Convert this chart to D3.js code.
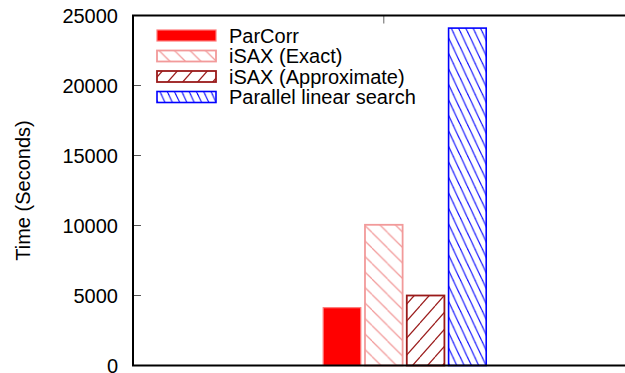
<!DOCTYPE html>
<html>
<head>
<meta charset="utf-8">
<script src="https://cdn.jsdelivr.net/npm/d3@7"></script>
<style>
  html, body { margin: 0; padding: 0; background: #fff; overflow: hidden; }
  svg { display: block; }
  text { font-family: "Liberation Sans", Arial, Helvetica, sans-serif; fill: #000; }
</style>
</head>
<body>
<svg id="chart" width="625" height="373"></svg>
<script>
// Query time of each method (seconds)
const seriesNames = ["ParCorr", "iSAX (Exact)", "iSAX (Approximate)", "Parallel linear search"];
const seriesValues = [4130, 10050, 5000, 24100];
// Bar slot of each series within the cluster (cluster tic sits at slot 0)
const seriesSlots = [-1, 0, 1, 2];
const yTicks = [0, 5000, 10000, 15000, 20000, 25000];
const yLabel = "Time (Seconds)";

const W = 625, H = 373;
const plot = { left: 133, right: 676.4, top: 15.5, bottom: 365.5 };

const svg = d3.select("#chart");

// Fill styles per series
const styles = [
  { fill: "#ff0000", stroke: "#ff7a7a", sw: 1.2, pattern: null },
  { fill: null, stroke: "#f29a9a", sw: 1.8, pattern: { id: "hatchExact", w: 15.5, h: 15.5, dir: "back", color: "#f29a9a", lw: 1.2 } },
  { fill: null, stroke: "#9a1a1a", sw: 1.8, pattern: { id: "hatchApprox", w: 15, h: 17, dir: "fwd", color: "#9a1a1a", lw: 1.2 } },
  { fill: null, stroke: "#0000ff", sw: 1.6, pattern: { id: "hatchLinear", w: 7.3, h: 15.5, dir: "back", color: "#0000ff", lw: 1.1 } }
];

const defs = svg.append("defs");
styles.forEach(s => {
  if (!s.pattern) return;
  const p = s.pattern;
  const pat = defs.append("pattern")
    .attr("id", p.id)
    .attr("patternUnits", "userSpaceOnUse")
    .attr("width", p.w).attr("height", p.h);
  pat.append("rect").attr("width", p.w).attr("height", p.h).attr("fill", "#fff");
  // main diagonal plus the two corner pieces so lines join across tiles
  const segs = p.dir === "back"
    ? [[0, 0, p.w, p.h], [-p.w, 0, 0, p.h], [p.w, 0, 2 * p.w, p.h]]
    : [[0, p.h, p.w, 0], [-p.w, p.h, 0, 0], [p.w, p.h, 2 * p.w, 0]];
  segs.forEach(d => {
    pat.append("line")
      .attr("x1", d[0]).attr("y1", d[1]).attr("x2", d[2]).attr("y2", d[3])
      .attr("stroke", p.color).attr("stroke-width", p.lw);
  });
});
const fillOf = s => s.pattern ? `url(#${s.pattern.id})` : s.fill;

// Scales
const x = d3.scaleLinear().domain([-6, 7]).range([plot.left, plot.right]);
const y = d3.scaleLinear().domain([0, 25000]).range([plot.bottom, plot.top]);
const barWidth = x(0.9) - x(0);

// Ticks on the left axis (pointing inward) with labels
const yAxis = d3.axisLeft(y).tickValues(yTicks).tickSize(0).tickPadding(15).tickFormat(d3.format("d"));
const gy = svg.append("g").attr("transform", `translate(${plot.left},0)`).call(yAxis);
gy.select(".domain").remove();
gy.selectAll("text").style("font-size", "20px").attr("dy", "0.36em")
  .style("font-family", '"Liberation Sans", Arial, sans-serif');

svg.append("g").selectAll("line").data(yTicks.filter(v => v > 0 && v < 25000)).join("line")
  .attr("x1", plot.left).attr("x2", plot.left + 8)
  .attr("y1", d => y(d)).attr("y2", d => y(d))
  .attr("stroke", "#555").attr("stroke-width", 1);

// Cluster tic mark on the top and bottom borders
const ticX = x(0);
svg.append("line").attr("x1", ticX).attr("x2", ticX).attr("y1", plot.top).attr("y2", plot.top + 8)
  .attr("stroke", "#666").attr("stroke-width", 1);
svg.append("line").attr("x1", ticX).attr("x2", ticX).attr("y1", plot.bottom).attr("y2", plot.bottom - 8)
  .attr("stroke", "#666").attr("stroke-width", 1);

// Bars
svg.append("g").selectAll("rect").data(seriesValues).join("rect")
  .attr("x", (d, i) => x(seriesSlots[i]) - barWidth / 2)
  .attr("width", barWidth)
  .attr("y", d => y(d))
  .attr("height", d => y(0) - y(d))
  .attr("fill", (d, i) => fillOf(styles[i]))
  .attr("stroke", (d, i) => styles[i].stroke)
  .attr("stroke-width", (d, i) => styles[i].sw);

// Plot border: left, top, bottom
svg.append("path")
  .attr("d", `M${W + 10},${plot.top}H${plot.left}V${plot.bottom}H${W + 10}`)
  .attr("fill", "none").attr("stroke", "#000").attr("stroke-width", 2);

// Legend
const legend = svg.append("g");
const legRow = i => 35.5 + i * 20.5;
seriesNames.forEach((name, i) => {
  const s = styles[i];
  legend.append("rect")
    .attr("x", 157).attr("y", legRow(i) - 5.5)
    .attr("width", 59).attr("height", 11)
    .attr("fill", fillOf(s))
    .attr("stroke", s.stroke).attr("stroke-width", s.sw);
  legend.append("text")
    .attr("x", 229).attr("y", legRow(i) + 7)
    .style("font-size", "20px")
    .text(name);
});

// Y axis title
svg.append("text")
  .attr("transform", `translate(30,${(plot.top + plot.bottom) / 2}) rotate(-90)`)
  .attr("text-anchor", "middle")
  .style("font-size", "20px")
  .text(yLabel);
</script>
</body>
</html>
